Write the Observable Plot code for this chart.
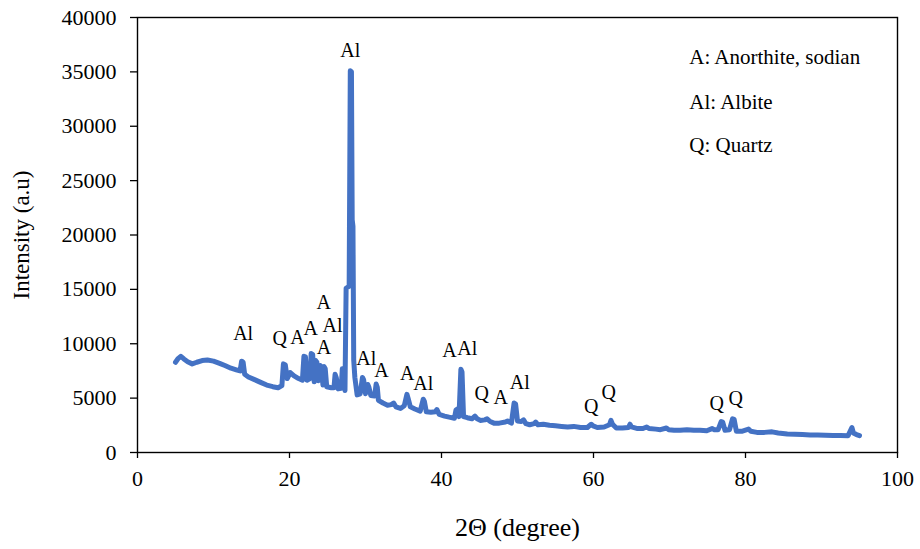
<!DOCTYPE html>
<html>
<head>
<meta charset="utf-8">
<script src="https://cdn.jsdelivr.net/npm/d3@7"></script>
<script src="https://cdn.jsdelivr.net/npm/@observablehq/plot@0.6"></script>
<style>
  html, body { margin: 0; padding: 0; background: #fff; }
  #chart { width: 920px; height: 549px; }
  #chart svg, #chart svg text { font-family: "Liberation Serif", "Times New Roman", serif !important; }
  #chart svg { font-size: 22px; color: #000; }
</style>
</head>
<body>
<div id="chart"></div>
<script>
// 2θ (degree) values of the trace
const twoTheta = [
  5.0, 5.3, 5.7, 6.1, 6.6, 7.2, 7.8, 8.5, 9.2, 10.0, 10.8, 11.5, 12.3, 13.0, 13.5, 13.7, 13.9, 14.1,
  14.6, 15.4, 16.2, 17.0, 17.8, 18.5, 19.0, 19.2, 19.45, 19.7, 20.1, 20.6, 21.2, 21.7, 21.9, 22.1,
  22.3, 22.7, 22.85, 23.05, 23.25, 23.45, 23.6, 23.8, 24.05, 24.2, 24.4, 24.55, 24.7, 24.9, 25.5,
  25.85, 26.0, 26.15, 26.4, 26.8, 26.95, 27.1, 27.3, 27.45, 27.65, 27.85, 28.0, 28.15, 28.25, 28.35,
  28.45, 28.6, 28.9, 29.3, 29.6, 29.75, 30.0, 30.3, 30.45, 30.7, 31.2, 31.4, 31.55, 31.7, 32.3, 32.9,
  33.4, 33.7, 34.0, 34.6, 35.1, 35.45, 35.6, 35.9, 36.5, 37.2, 37.6, 37.75, 38.0, 38.6, 39.2, 39.4,
  39.7, 40.4, 41.0, 41.7, 41.9, 42.1, 42.3, 42.55, 42.7, 42.9, 43.4, 44.0, 44.4, 44.7, 45.1, 45.7,
  46.0, 46.4, 46.9, 47.6, 48.4, 48.7, 49.2, 49.55, 49.75, 50.0, 50.5, 50.8, 51.1, 51.6, 52.2, 52.4,
  52.7, 53.4, 54.2, 55.0, 55.8, 56.6, 57.4, 58.3, 59.2, 59.7, 59.95, 60.5, 61.4, 62.1, 62.3, 62.5,
  63.0, 63.8, 64.6, 64.8, 65.0, 65.8, 66.5, 67.0, 67.3, 68.2, 68.8, 69.6, 69.9, 70.6, 71.4, 72.3,
  73.2, 74.0, 74.9, 75.6, 75.9, 76.4, 76.8, 77.0, 77.3, 77.9, 78.3, 78.5, 78.8, 79.5, 80.4, 80.7,
  81.5, 82.5, 83.5, 84.3, 85.5, 86.5, 87.5, 88.5, 89.5, 90.5, 91.5, 92.5, 93.5, 93.8, 94.0, 94.2,
  94.6, 95.0
];
// Intensity (a.u) values of the trace
const intensity = [
  8300, 8600, 8850, 8600, 8350, 8150, 8300, 8450, 8500, 8400, 8200, 8000, 7750, 7600, 7500, 8400, 8300, 7200,
  6950, 6700, 6450, 6200, 6050, 5950, 6150, 8150, 8050, 6800, 7350, 7050, 6800, 6650, 8850, 8800,
  6650, 6800, 9100, 9000, 6500, 8450, 8300, 6600, 8000, 7800, 6200, 7900, 7700, 6050, 5950,
  5950, 7200, 6900, 5850, 5900, 7700, 6800, 5700, 15100, 15200, 15300, 35100, 35000, 21400, 20800,
  8500, 6900, 5300, 5400, 6900, 6700, 5400, 6250, 6000, 5250, 5200, 6300, 6000, 4800, 4550, 4350,
  4400, 4550, 4200, 4050, 4300, 5350, 5000, 4200, 4000, 3800, 4900, 4700, 3750, 3700, 3750, 3950,
  3500, 3350, 3250, 3150, 3900, 4000, 3300, 7650, 7400, 3300, 3200, 3100, 3350, 3100, 2950, 3000,
  3100, 2850, 2700, 2700, 2800, 2900, 2700, 4550, 4450, 2900, 2850, 3000, 2650, 2550, 2650, 2800,
  2550, 2600, 2500, 2450, 2400, 2350, 2400, 2300, 2300, 2600, 2450, 2300, 2350, 2550, 2950, 2600,
  2250, 2250, 2300, 2600, 2350, 2200, 2200, 2350, 2200, 2150, 2100, 2250, 2100, 2050, 2050, 2100,
  2050, 2050, 2000, 2200, 2100, 2100, 2850, 2800, 2050, 2100, 3100, 3050, 1950, 1950, 2150, 1950,
  1850, 1850, 1900, 1800, 1700, 1680, 1650, 1620, 1600, 1580, 1560, 1560, 1550, 2000, 2300, 1800,
  1650, 1550
];

// Peak labels
const peakLabels = ["Al", "Al", "Q", "A", "A", "A", "Al", "A", "Al", "A", "A", "Al", "A", "Al", "Q", "A", "Al", "Q", "Q", "Q", "Q"];
const peakX      = [28.0, 13.9, 18.7, 21.05, 22.8, 24.5, 25.65, 24.55, 30.1, 32.1, 35.5, 37.6, 41.05, 43.4, 45.3, 47.8, 50.3, 59.7, 62.0, 76.2, 78.7];
const peakY      = [36990, 10950, 10490, 10580, 11410, 13800, 11650, 9650, 8650, 7540, 7270, 6350, 9380, 9560, 5430, 5060, 6440, 4230, 5520, 4510, 4970];

// Legend entries
const legendText = ["A: Anorthite, sodian", "Al: Albite", "Q: Quartz"];
const legendY = [36340, 32200, 28250];
const legendX = 72.6;

// Axis ticks
const xTicks = [0, 20, 40, 60, 80, 100];
const yTicks = [0, 5000, 10000, 15000, 20000, 25000, 30000, 35000, 40000];

const trace = twoTheta.map((t, i) => ({t, v: intensity[i]}));
const labels = peakLabels.map((s, i) => ({s, x: peakX[i], y: peakY[i]}));
const legend = legendText.map((s, i) => ({s, x: legendX, y: legendY[i]}));

const serif = "Liberation Serif";

const chart = Plot.plot({
  width: 920,
  height: 549,
  marginLeft: 137,
  marginRight: 23,
  marginTop: 17,
  marginBottom: 97,
  style: {fontFamily: serif, fontSize: "22px", color: "#000", background: "#fff"},
  x: {domain: [0, 100], ticks: xTicks},
  y: {domain: [0, 40000], ticks: yTicks},
  marks: [
    Plot.axisX({ticks: xTicks, tickSize: 6, tickPadding: 12, label: null, tickFormat: d => String(d), fontSize: 22, fontFamily: serif, strokeWidth: 1.3}),
    Plot.axisY({ticks: yTicks, tickSize: 7, tickPadding: 14, label: null, tickFormat: d => String(d), fontSize: 22, fontFamily: serif, strokeWidth: 1.3}),
    Plot.frame({stroke: "#000", strokeWidth: 1.4}),
    Plot.line(trace, {x: "t", y: "v", stroke: "#4472C4", strokeWidth: 5, strokeLinejoin: "round", strokeLinecap: "round"}),
    Plot.text(labels, {x: "x", y: "y", text: "s", fontSize: 20, fontFamily: serif, fill: "#000"}),
    Plot.text(legend, {x: "x", y: "y", text: "s", textAnchor: "start", fontSize: 21, fontFamily: serif, fill: "#000"}),
    Plot.text(["2Θ (degree)"], {frameAnchor: "bottom", dy: 75, lineAnchor: "middle", textAnchor: "middle", fontSize: 26, fontFamily: serif, fill: "#000"}),
    Plot.text(["Intensity (a.u)"], {frameAnchor: "left", dx: -116, rotate: -90, textAnchor: "middle", lineAnchor: "middle", fontSize: 23, fontFamily: serif, fill: "#000"})
  ]
});
document.getElementById("chart").appendChild(chart);
</script>
</body>
</html>
